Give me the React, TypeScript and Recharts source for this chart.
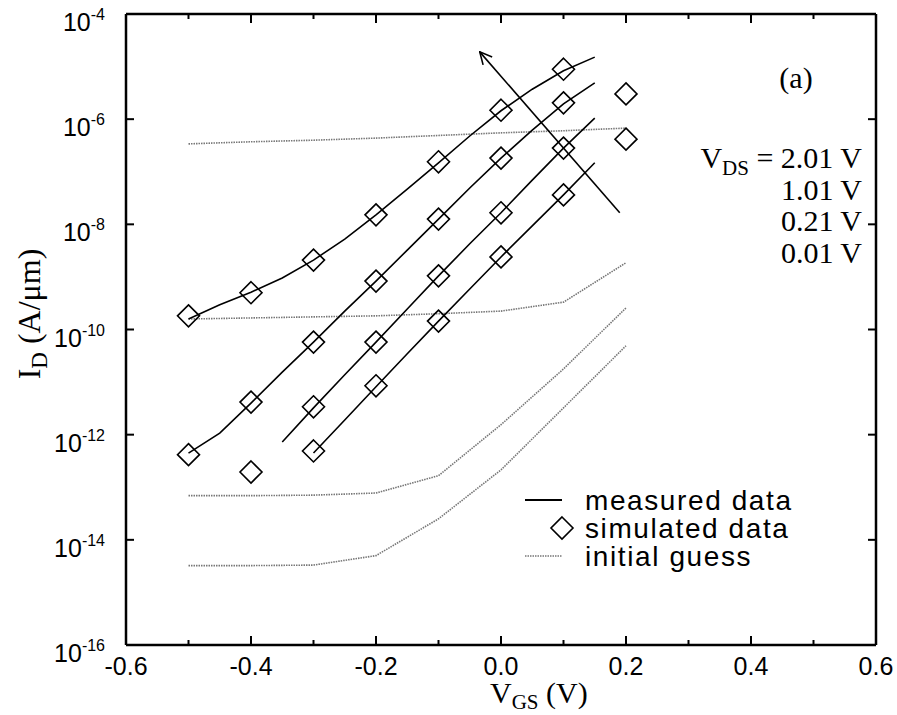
import React from "react";
import { LineChart, Line, XAxis, YAxis, Legend } from "recharts";

// log10(I_D) in A/um
const VGS_MEAS = [-0.5, -0.45, -0.4, -0.35, -0.3, -0.25, -0.2, -0.15, -0.1, -0.05, 0.0, 0.05, 0.1, 0.15];
const meas201 = [-9.8, -9.53, -9.29, -9.02, -8.68, -8.28, -7.82, -7.33, -6.83, -6.32, -5.84, -5.43, -5.08, -4.82];
const meas101 = [-12.35, -11.97, -11.4, -10.81, -10.24, -9.65, -9.08, -8.49, -7.9, -7.31, -6.74, -6.21, -5.71, -5.31];
const meas021 = [null, null, null, -12.14, -11.49, -10.86, -10.24, -9.61, -8.98, -8.37, -7.78, -7.16, -6.55, -5.98];
const meas001 = [null, null, null, null, -12.35, -11.72, -11.09, -10.46, -9.84, -9.23, -8.62, -8.03, -7.44, -6.83];

const VGS_SIM = [-0.5, -0.4, -0.3, -0.2, -0.1, 0.0, 0.1, 0.2];
const sim201 = [-9.74, -9.3, -8.68, -7.82, -6.81, -5.83, -5.05, null];
const sim101 = [-12.38, -11.38, -10.24, -9.08, -7.9, -6.74, -5.69, null];
const sim021 = [null, -12.71, -11.47, -10.24, -8.98, -7.78, -6.55, -5.52];
const sim001 = [null, null, -12.31, -11.07, -9.84, -8.62, -7.44, -6.38];

const VGS_GUESS = [-0.5, -0.4, -0.3, -0.2, -0.1, 0.0, 0.1, 0.2];
const guess201 = [-6.47, -6.43, -6.4, -6.36, -6.31, -6.26, -6.22, -6.17];
const guess101 = [-9.8, -9.78, -9.76, -9.74, -9.7, -9.65, -9.48, -8.73];
const guess021 = [-13.16, -13.16, -13.15, -13.11, -12.78, -11.81, -10.75, -9.59];
const guess001 = [-14.49, -14.49, -14.48, -14.3, -13.6, -12.67, -11.49, -10.31];

// arrow: increasing V_DS direction
const ARROW_X = [0.19, -0.034];
const ARROW_Y = [-7.78, -4.72];

const X_TICKS = [-0.6, -0.5, -0.4, -0.3, -0.2, -0.1, 0, 0.1, 0.2, 0.3, 0.4, 0.5, 0.6];
const Y_TICKS = [-16, -14, -12, -10, -8, -6, -4];
const VDS_LABELS = ["2.01 V", "1.01 V", "0.21 V", "0.01 V"];
const LEGEND_ITEMS = ["measured data", "simulated data", "initial guess"];

const SANS = "'Liberation Sans', Arial, Helvetica, sans-serif";
const SERIF = "'Liberation Serif', 'Times New Roman', Times, serif";

function zip(xs: number[], ys: (number | null)[]) {
  return xs
    .map((x, i) => ({ x, y: ys[i] }))
    .filter((p) => p.y !== null && p.y !== undefined);
}

const measured = [meas201, meas101, meas021, meas001].map((s) => zip(VGS_MEAS, s));
const simulated = [sim201, sim101, sim021, sim001].map((s) => zip(VGS_SIM, s));
const guesses = [guess201, guess101, guess021, guess001].map((s) => zip(VGS_GUESS, s));
const arrow = zip(ARROW_X, ARROW_Y);

const isMajor = (v: number) => Math.abs(Math.round(v * 10)) % 2 === 0;

function BottomTick(props: any) {
  const { x, y, payload } = props;
  const v = payload.value as number;
  const major = isMajor(v);
  return (
    <g>
      <line x1={x} x2={x} y1={y} y2={y - (major ? 9 : 5)} stroke="#000" strokeWidth={2} />
      {major && (
        <text x={x} y={y + 30} textAnchor="middle" fontFamily={SANS} fontSize={25} fill="#000">
          {v.toFixed(1)}
        </text>
      )}
    </g>
  );
}

function TopTick(props: any) {
  const { x, y, payload } = props;
  const major = isMajor(payload.value);
  return <line x1={x} x2={x} y1={y} y2={y + (major ? 9 : 5)} stroke="#000" strokeWidth={2} />;
}

function LeftTick(props: any) {
  const { x, y, payload } = props;
  return (
    <g>
      <line x1={x} x2={x + 8} y1={y} y2={y} stroke="#000" strokeWidth={2} />
      <text x={x - 21} y={y + 17} textAnchor="end" fontFamily={SANS} fill="#000">
        <tspan fontSize={25}>10</tspan>
        <tspan fontSize={16} dy={-11}>{String(payload.value)}</tspan>
      </text>
    </g>
  );
}

function RightTick(props: any) {
  const { x, y } = props;
  return <line x1={x} x2={x - 8} y1={y} y2={y} stroke="#000" strokeWidth={2} />;
}

function Diamond(props: any) {
  const { cx, cy } = props;
  if (cx == null || cy == null) return null;
  const r = 11;
  return (
    <polygon
      points={`${cx},${cy - r} ${cx + r},${cy} ${cx},${cy + r} ${cx - r},${cy}`}
      fill="none"
      stroke="#000"
      strokeWidth={1.6}
    />
  );
}

function LegendBox() {
  const rows = [16, 44, 72];
  return (
    <svg width={330} height={95} style={{ display: "block" }}>
      <line x1={5} x2={42} y1={rows[0]} y2={rows[0]} stroke="#000" strokeWidth={1.8} />
      <polygon points={`42,33 53,44 42,55 31,44`} fill="none" stroke="#000" strokeWidth={1.6} />
      <line x1={5} x2={42} y1={rows[2]} y2={rows[2]} stroke="#777" strokeWidth={1.6} strokeDasharray="1.5 1" />
      {LEGEND_ITEMS.map((t, i) => (
        <text key={t} x={65} y={rows[i] + 10} fontFamily={SANS} fontSize={28} letterSpacing={1.6} fill="#000">
          {t}
        </text>
      ))}
    </svg>
  );
}

export default function App() {
  return (
    <div style={{ position: "absolute", left: 0, top: 0, width: 897, height: 715, background: "#fff" }}>
      <svg width={0} height={0} style={{ position: "absolute" }}>
        <defs>
          <marker
            id="arrowHead"
            viewBox="0 0 14 14"
            refX={13}
            refY={7}
            markerWidth={14}
            markerHeight={14}
            markerUnits="userSpaceOnUse"
            orient="auto"
          >
            <path d="M1,1 L13,7 L1,13" fill="none" stroke="#000" strokeWidth={1.6} />
          </marker>
        </defs>
      </svg>
      <LineChart width={897} height={715} margin={{ top: 13, right: 20, bottom: 10, left: 16 }}>
        <XAxis
          xAxisId="b"
          dataKey="x"
          type="number"
          domain={[-0.6, 0.6]}
          ticks={X_TICKS}
          interval={0}
          allowDataOverflow
          height={60}
          tickSize={0}
          tickMargin={0}
          tickLine={false}
          axisLine={{ stroke: "#000", strokeWidth: 2.5 }}
          tick={<BottomTick />}
        />
        <XAxis
          xAxisId="t"
          orientation="top"
          dataKey="x"
          type="number"
          domain={[-0.6, 0.6]}
          ticks={X_TICKS}
          interval={0}
          allowDataOverflow
          height={1}
          tickSize={0}
          tickMargin={0}
          tickLine={false}
          axisLine={{ stroke: "#000", strokeWidth: 2.5 }}
          tick={<TopTick />}
        />
        <YAxis
          yAxisId="l"
          type="number"
          domain={[-16, -4]}
          ticks={Y_TICKS}
          interval={0}
          allowDataOverflow
          width={110}
          tickSize={0}
          tickMargin={0}
          tickLine={false}
          axisLine={{ stroke: "#000", strokeWidth: 2.5 }}
          tick={<LeftTick />}
        />
        <YAxis
          yAxisId="r"
          orientation="right"
          type="number"
          domain={[-16, -4]}
          ticks={Y_TICKS}
          interval={0}
          allowDataOverflow
          width={1}
          tickSize={0}
          tickMargin={0}
          tickLine={false}
          axisLine={{ stroke: "#000", strokeWidth: 2.5 }}
          tick={<RightTick />}
        />
        {guesses.map((d, i) => (
          <Line
            key={`g${i}`}
            xAxisId="b"
            yAxisId="l"
            data={d}
            dataKey="y"
            type="linear"
            stroke="#777"
            strokeWidth={1.6}
            strokeDasharray="1.5 1"
            dot={false}
            legendType="none"
            isAnimationActive={false}
          />
        ))}
        {measured.map((d, i) => (
          <Line
            key={`m${i}`}
            xAxisId="b"
            yAxisId="l"
            data={d}
            dataKey="y"
            type="linear"
            stroke="#000"
            strokeWidth={1.6}
            dot={false}
            legendType="none"
            isAnimationActive={false}
          />
        ))}
        {simulated.map((d, i) => (
          <Line
            key={`s${i}`}
            xAxisId="b"
            yAxisId="l"
            data={d}
            dataKey="y"
            type="linear"
            stroke="none"
            dot={<Diamond />}
            legendType="none"
            isAnimationActive={false}
          />
        ))}
        <Line
          xAxisId="b"
          yAxisId="l"
          data={arrow}
          dataKey="y"
          type="linear"
          stroke="#000"
          strokeWidth={1.6}
          markerEnd="url(#arrowHead)"
          dot={false}
          legendType="none"
          isAnimationActive={false}
        />
        <Legend
          layout="vertical"
          align="center"
          verticalAlign="middle"
          wrapperStyle={{ left: 520, top: 484, width: 330, height: 95 }}
          content={() => <LegendBox />}
        />
      </LineChart>
      <svg
        width={897}
        height={715}
        style={{ position: "absolute", left: 0, top: 0, pointerEvents: "none" }}
      >
        <text x={796} y={88} textAnchor="middle" fontFamily={SERIF} fontSize={30} fill="#000">
          (a)
        </text>
        <text x={862} y={168} textAnchor="end" fontFamily={SERIF} fontSize={30} fill="#000">
          <tspan>V</tspan>
          <tspan fontSize={21} dy={7}>DS</tspan>
          <tspan dy={-7}>{` = ${VDS_LABELS[0]}`}</tspan>
        </text>
        {VDS_LABELS.slice(1).map((t, i) => (
          <text key={t} x={862} y={199.5 + i * 31.5} textAnchor="end" fontFamily={SERIF} fontSize={30} fill="#000">
            {t}
          </text>
        ))}
        <text x={490} y={703} fontFamily={SERIF} fontSize={30} fill="#000">
          <tspan>V</tspan>
          <tspan fontSize={21} dy={6}>GS</tspan>
          <tspan dy={-6}> (V)</tspan>
        </text>
        <text
          x={40}
          y={314}
          transform="rotate(-90 40 314)"
          textAnchor="middle"
          fontFamily={SERIF}
          fontSize={32}
          fill="#000"
        >
          <tspan>I</tspan>
          <tspan fontSize={23} dy={7}>D</tspan>
          <tspan dy={-7}> (A/μm)</tspan>
        </text>
      </svg>
    </div>
  );
}
